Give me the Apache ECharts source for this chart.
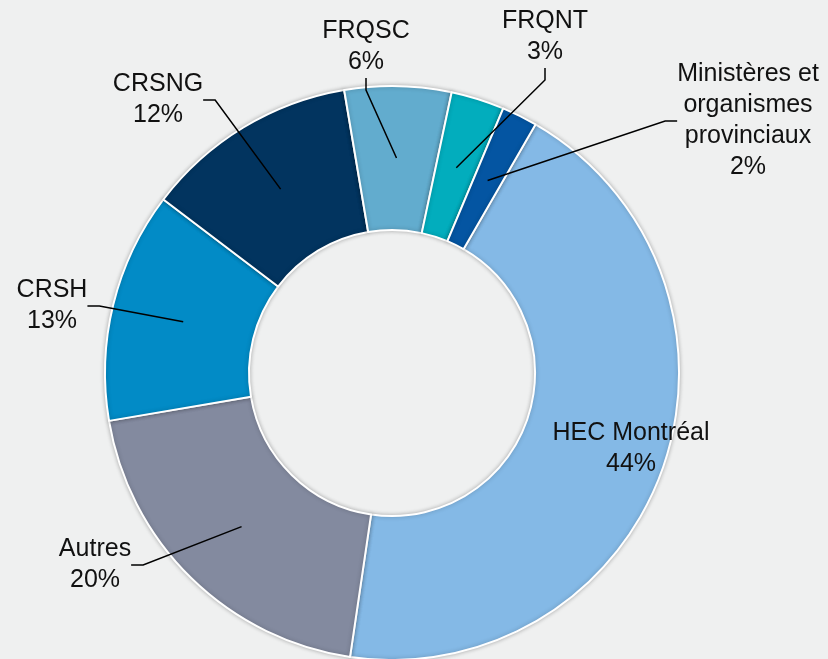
<!DOCTYPE html>
<html>
<head>
<meta charset="utf-8">
<script src="https://cdn.jsdelivr.net/npm/echarts@6/dist/echarts.min.js"></script>
<style>
  html, body { margin: 0; padding: 0; background: #eff0f0; }
  #chart { width: 828px; height: 659px; }
</style>
</head>
<body>
<div id="chart"></div>
<script>
// sources de financement (ordre horaire)
var categories = ['HEC Montréal', 'Autres', 'CRSH', 'CRSNG', 'FRQSC', 'FRQNT', 'Ministères et\norganismes\nprovinciaux'];
var values = [44, 20, 13, 12, 6, 3, 2];
var colors = ['#84b9e6', '#838a9f', '#028bc6', '#02345f', '#62acce', '#02adbd', '#0455a2'];

// position des étiquettes (centre du bloc de texte)
var labelPos = [[631, 449], [95, 565], [52, 306], [158, 100], [366, 47], [545, 37], [748, 121]];

var myChart = echarts.init(document.getElementById('chart'));

var ringData = categories.map(function (name, i) {
  return { name: name, value: values[i], itemStyle: { color: colors[i] } };
});

var labelData = categories.map(function (name, i) {
  var d = { name: name, value: values[i] };
  if (i === 0) d.labelLine = { show: false };
  return d;
});

myChart.setOption({
  backgroundColor: '#eff0f0',
  animation: false,
  series: [
    {
      type: 'pie',
      z: 2,
      center: [392, 373],
      radius: [143, 287],
      startAngle: 60,
      clockwise: true,
      silent: true,
      label: { show: false },
      labelLine: { show: false },
      itemStyle: {
        borderColor: '#ffffff',
        borderWidth: 2,
        shadowBlur: 4,
        shadowColor: 'rgba(0,0,0,0.25)'
      },
      data: ringData
    },
    {
      // anneau invisible : sert d'ancrage aux lignes de rappel
      type: 'pie',
      z: 5,
      center: [392, 373],
      radius: [0, 215],
      startAngle: 60,
      clockwise: true,
      silent: true,
      itemStyle: { color: 'rgba(0,0,0,0)', borderWidth: 0 },
      label: {
        show: true,
        position: 'outside',
        formatter: '{b}\n{c}%',
        color: '#111111',
        fontFamily: 'Liberation Sans, Arial, sans-serif',
        fontSize: 25,
        lineHeight: 31,
        align: 'center'
      },
      labelLine: {
        show: true,
        length: 10,
        length2: 12,
        lineStyle: { color: '#000000', width: 1.5 }
      },
      labelLayout: function (params) {
        var p = labelPos[params.dataIndex];
        return { x: p[0], y: p[1], align: 'center', verticalAlign: 'middle' };
      },
      data: labelData
    }
  ]
});
</script>
</body>
</html>
